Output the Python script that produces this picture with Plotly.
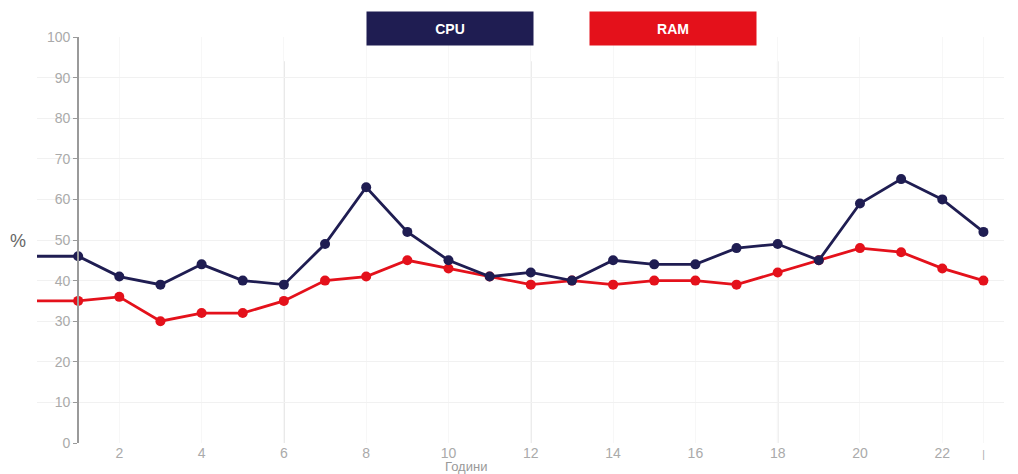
import plotly.graph_objects as go

# Hourly load, percent
hours = list(range(0, 24))
cpu = [46, 46, 41, 39, 44, 40, 39, 49, 63, 52, 45, 41, 42, 40, 45, 44, 44, 48, 49, 45, 59, 65, 60, 52]
ram = [35, 35, 36, 30, 32, 32, 35, 40, 41, 45, 43, 41, 39, 40, 39, 40, 40, 39, 42, 45, 48, 47, 43, 40]

x_tickvals = [2, 4, 6, 8, 10, 12, 14, 16, 18, 20, 22, 23]
x_ticktext = ["2", "4", "6", "8", "10", "12", "14", "16", "18", "20", "22",
              "<span style='font-size:10px'>|</span>"]
y_tickvals = list(range(0, 101, 10))
major_hours = [6, 12, 18]

CPU_COLOR = "#1f1d52"
RAM_COLOR = "#e4111b"

# hour 0 only continues the line to the left edge, no marker there
marker_sizes = [0] + [10] * (len(hours) - 1)

fig = go.Figure()
fig.add_trace(go.Scatter(
    x=hours, y=ram, mode="lines+markers", name="RAM",
    line=dict(color=RAM_COLOR, width=2.8),
    marker=dict(color=RAM_COLOR, size=marker_sizes, opacity=1,
                line=dict(width=0)),
    cliponaxis=False,
))
fig.add_trace(go.Scatter(
    x=hours, y=cpu, mode="lines+markers", name="CPU",
    line=dict(color=CPU_COLOR, width=2.8),
    marker=dict(color=CPU_COLOR, size=marker_sizes, opacity=1,
                line=dict(width=0)),
    cliponaxis=False,
))

for h in major_hours:
    fig.add_shape(type="line", xref="x", yref="y", x0=h, x1=h, y0=0, y1=94,
                  line=dict(color="#dcdcdc", width=1.5), layer="below")

x_range = [0, 23.5]
axis_pos = 1 / (x_range[1] - x_range[0])

fig.update_layout(
    width=1018, height=474,
    margin=dict(l=37, r=14, t=37, b=31),
    paper_bgcolor="white", plot_bgcolor="white",
    showlegend=False,
    font=dict(family="Liberation Sans, Arial, sans-serif", color="#aaaaaa"),
    xaxis=dict(
        range=x_range, tickvals=x_tickvals, ticktext=x_ticktext,
        tickfont=dict(size=14, color="#aaaaaa"),
        showgrid=True, gridcolor="#f7f7f7", gridwidth=1,
        zeroline=False, showline=False, ticks="",
    ),
    yaxis=dict(
        range=[0, 100], tickvals=y_tickvals,
        anchor="free", position=axis_pos,
        tickfont=dict(size=14, color="#aaaaaa"),
        showgrid=True, gridcolor="#f1f1f1", gridwidth=1,
        zeroline=False, showline=True, linecolor="#9a9a9a", linewidth=2,
        ticks="outside", ticklen=4, tickcolor="#9a9a9a", tickwidth=1,
    ),
)

# Legend boxes
for label, color, xc in [("CPU", CPU_COLOR, 0.4271), ("RAM", RAM_COLOR, 0.6577)]:
    fig.add_annotation(
        x=xc, y=1.021, xref="paper", yref="paper",
        xanchor="center", yanchor="middle",
        text=f"<b>{label}</b>", showarrow=False,
        font=dict(size=14, color="white", family="Liberation Sans, Arial, sans-serif"),
        bgcolor=color, width=166, height=33, borderpad=0,
    )

fig.add_annotation(
    x=-0.0196, y=0.4975, xref="paper", yref="paper",
    text="%", showarrow=False, xanchor="center", yanchor="middle",
    font=dict(size=18, color="#666666"),
)
fig.add_annotation(
    x=0.4436, y=-0.059, xref="paper", yref="paper",
    text="Години", showarrow=False, xanchor="center", yanchor="middle",
    font=dict(size=13, color="#999999"),
)

fig.write_html("out.html")
